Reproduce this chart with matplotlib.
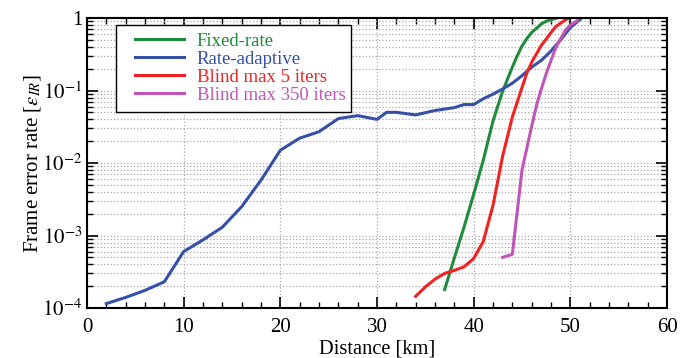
import numpy as np
import matplotlib.pyplot as plt
from matplotlib.patches import Rectangle
from matplotlib.ticker import MultipleLocator, LogLocator, NullFormatter

plt.rcParams['font.family'] = ['Liberation Serif', 'DejaVu Serif']
plt.rcParams['mathtext.fontset'] = 'stix'

# Rate-adaptive
dist_ra = [2, 4, 6, 8, 10, 12, 14, 16, 18, 20, 22, 24, 26, 28, 30, 31, 32, 34, 36, 38, 39, 40,
           41, 42, 43, 44, 45, 46, 47, 48, 49, 50, 51]
fer_ra = [1.15e-4, 1.4e-4, 1.75e-4, 2.3e-4, 6.0e-4, 8.7e-4, 1.3e-3, 2.5e-3, 5.8e-3, 1.5e-2,
          2.2e-2, 2.7e-2, 4.1e-2, 4.5e-2, 4.0e-2, 5.0e-2, 5.0e-2, 4.6e-2, 5.3e-2, 5.8e-2,
          6.4e-2, 6.4e-2, 7.7e-2, 8.9e-2, 0.105, 0.126, 0.16, 0.21, 0.26, 0.35, 0.5, 0.74, 0.95]

# Fixed-rate
dist_fr = [37, 38, 39, 40, 41, 42, 43, 44, 44.5, 45, 45.5, 46, 46.5, 47, 47.5, 48, 48.6]
fer_fr = [1.8e-4, 4.9e-4, 1.3e-3, 3.7e-3, 1.1e-2, 3.8e-2, 0.098, 0.21, 0.3, 0.41, 0.52, 0.63,
          0.72, 0.83, 0.9, 0.95, 1.0]

# Blind max 5 iters
dist_b5 = [34, 35, 36, 37, 38, 39, 40, 41, 42, 43, 44, 45, 45.5, 46, 46.5, 47, 47.5, 48, 48.5,
           49, 49.8]
fer_b5 = [1.45e-4, 1.95e-4, 2.5e-4, 3.0e-4, 3.3e-4, 3.7e-4, 4.8e-4, 8.3e-4, 2.6e-3, 1.25e-2,
          4.3e-2, 0.11, 0.174, 0.245, 0.32, 0.42, 0.51, 0.63, 0.76, 0.85, 1.0]

# Blind max 350 iters
dist_b350 = [43, 44, 45, 46, 46.5, 47, 47.5, 48, 48.5, 49, 49.5, 50, 50.8]
fer_b350 = [5.0e-4, 5.5e-4, 8.0e-3, 3.2e-2, 6.2e-2, 0.105, 0.17, 0.26, 0.39, 0.52, 0.68,
            0.8, 0.93]

fig = plt.figure(figsize=(6.94, 3.58), dpi=100)
ax = fig.add_axes([87 / 694, 50 / 358, 580 / 694, 290 / 358])

ax.plot(dist_fr, fer_fr, color='#1e8c3a', lw=2.2, label='Fixed-rate')
ax.plot(dist_ra, fer_ra, color='#3550a8', lw=2.2, label='Rate-adaptive')
ax.plot(dist_b5, fer_b5, color='#f02222', lw=2.2, label='Blind max 5 iters')
ax.plot(dist_b350, fer_b350, color='#c055b5', lw=2.2, label='Blind max 350 iters')

ax.set_yscale('log')
ax.set_xlim(0, 60)
ax.set_ylim(1e-4, 1)
ax.set_yticks([1e-4, 1e-3, 1e-2, 1e-1, 1])
ax.set_yticklabels(['$10^{-4}$', '$10^{-3}$', '$10^{-2}$', '$10^{-1}$', '1'])
ax.yaxis.set_minor_locator(LogLocator(base=10, subs=np.arange(2, 10)))
ax.yaxis.set_minor_formatter(NullFormatter())
ax.xaxis.set_major_locator(MultipleLocator(10))
ax.xaxis.set_minor_locator(MultipleLocator(2))

ax.tick_params(which='both', direction='in', top=True, right=True, labelsize=15)
ax.tick_params(axis='x', which='major', pad=7)
ax.tick_params(which='major', length=8, width=1.2)
ax.tick_params(which='minor', length=4, width=1.0)
for s in ax.spines.values():
    s.set_linewidth(1.5)

ax.grid(True, which='major', axis='x', linestyle=':', color='#aaaaaa', lw=0.9)
ax.grid(True, which='both', axis='y', linestyle=':', color='#aaaaaa', lw=0.9)

ax.set_xlabel('Distance [km]', fontsize=14.7, labelpad=2)
ax.set_ylabel(r'Frame error rate [$\varepsilon_{IR}$]', fontsize=15, labelpad=-1)

# legend box
ax.add_patch(Rectangle((0.05, 0.676), 0.405, 0.3, transform=ax.transAxes,
                       facecolor='white', edgecolor='black', lw=1.0, zorder=4))
leg = ax.legend(loc='upper left', bbox_to_anchor=(0.0828, 0.95), fontsize=13.5,
                frameon=False, handlelength=2.6, borderpad=0, borderaxespad=0,
                labelspacing=0.05, handletextpad=0.7)
leg.set_zorder(5)
for txt, line in zip(leg.get_texts(), leg.get_lines()):
    txt.set_color(line.get_color())

fig.savefig('out.png', dpi=100)
